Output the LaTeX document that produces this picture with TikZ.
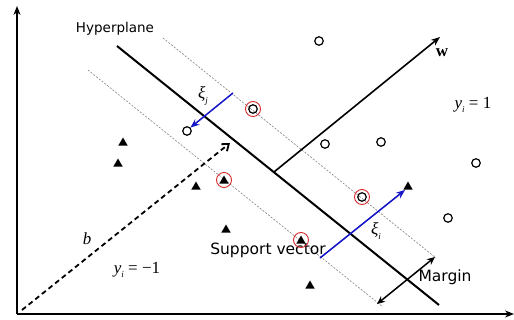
\documentclass[tikz,border=0pt]{standalone}
\usepackage{fontspec}
\newfontfamily\dv{DejaVu Sans}
\newfontfamily\tms{Liberation Serif}
\usetikzlibrary{arrows.meta,shapes.geometric}
\definecolor{arrblue}{RGB}{20,20,200}
\definecolor{ringred}{RGB}{215,40,45}
\tikzset{
  opn/.style={circle,draw,line width=1.2pt,minimum size=8.5pt,inner sep=0pt},
  ring/.style={circle,draw=ringred,line width=0.9pt,minimum size=15pt,inner sep=0pt},
  tri/.style={regular polygon,regular polygon sides=3,fill=black,minimum size=11pt,inner sep=0pt},
  margline/.style={gray,line width=0.6pt,dash pattern=on 2pt off 1.5pt},
  axis/.style={line width=1.8pt,-{Stealth[length=9pt,width=7pt]}},
  bluearr/.style={arrblue,line width=1.5pt,-{Stealth[length=9pt,width=7pt]}},
  lbl/.style={inner sep=0pt,font=\dv\fontsize{15.5}{18}\selectfont},
  mlbl/.style={inner sep=0pt,font=\tms\fontsize{17}{20}\selectfont}
}
\newcommand{\sbi}[1]{\raisebox{-0.25em}{\fontsize{9}{10}\selectfont\itshape #1}}
\begin{document}
\begin{tikzpicture}[x=1pt,y=-1pt]
\useasboundingbox (0,0) rectangle (514,320);
% axes
\coordinate (o) at (17,314);
\coordinate (ytop) at (17,6);
\coordinate (xend) at (514,314);
\draw[axis] (o) -- (ytop);
\draw[axis] (o) -- (xend);
% hyperplane and margins
\coordinate (h1) at (117,46);
\coordinate (h2) at (439,305);
\coordinate (u1) at (163,38);
\coordinate (u2) at (436,258);
\coordinate (l1) at (88,70);
\coordinate (l2) at (383,307);
\draw[margline] (u1) -- (u2);
\draw[margline] (l1) -- (l2);
\draw[line width=2pt] (h1) -- (h2);
% w vector
\coordinate (w0) at (274,172);
\coordinate (w1) at (440,37);
\draw[line width=1.6pt,-{Stealth[length=9pt,width=7pt]}] (w0) -- (w1);
\node[mlbl] (wl) at (442,53) {\bfseries w};
% b dashed arrow
\coordinate (b0) at (22,310);
\coordinate (b1) at (230,143);
\draw[line width=1.8pt,dash pattern=on 5pt off 3.5pt,-{Straight Barb[length=6pt,width=9pt]}] (b0) -- (b1);
\node[mlbl] (bl) at (87,239) {\itshape b};
% margin arrow
\coordinate (m0) at (377,304);
\coordinate (m1) at (435,257);
\draw[line width=1.5pt,{Stealth[length=8pt,width=7pt]}-{Stealth[length=8pt,width=7pt]}] (m0) -- (m1);
\node[lbl] (ml) at (445,277) {Margin};
% text labels
\node[lbl,font=\dv\fontsize{13.5}{16}\selectfont] (hyp) at (115,29) {Hyperplane};
\node[lbl] (sv) at (268,250) {Support vector};
\node[mlbl] (yp) at (473,105) {\itshape y\sbi{i}\upshape\ = 1};
\node[mlbl] (yn) at (137,270) {\itshape y\sbi{i}\upshape\ = −1};
% circles (class +1)
\node[opn] (c1) at (319,41) {};
\node[opn] (c2) at (253,109) {};
\node[ring] (r2) at (253,109) {};
\node[opn] (c3) at (187,131) {};
\node[opn] (c4) at (325,144) {};
\node[opn] (c5) at (381,142) {};
\node[opn] (c6) at (476,163) {};
\node[opn] (c7) at (362,197) {};
\node[ring] (r7) at (362,197) {};
\node[opn] (c8) at (448,218) {};
% triangles (class -1)
\node[tri] (t1) at (123,143) {};
\node[tri] (t2) at (118,164) {};
\node[tri] (t3) at (196,187) {};
\node[tri] (t4) at (224,181) {};
\node[ring] (r4) at (224,180) {};
\node[tri] (t5) at (226,230) {};
\node[tri] (t6) at (301,241) {};
\node[ring] (r6) at (301,240) {};
\node[tri] (t7) at (310,286) {};
\node[tri] (t8) at (408,187) {};
% slack arrows
\coordinate (xj0) at (233,93);
\coordinate (xi0) at (320,258);
\draw[bluearr] (xj0) -- (c3.north east);
\draw[bluearr] (xi0) -- (t8.south west);
\node[mlbl] (xjl) at (203,96) {\itshape ξ\sbi{j}};
\node[mlbl] (xil) at (376,231) {\itshape ξ\sbi{i}};
\end{tikzpicture}
\end{document}
